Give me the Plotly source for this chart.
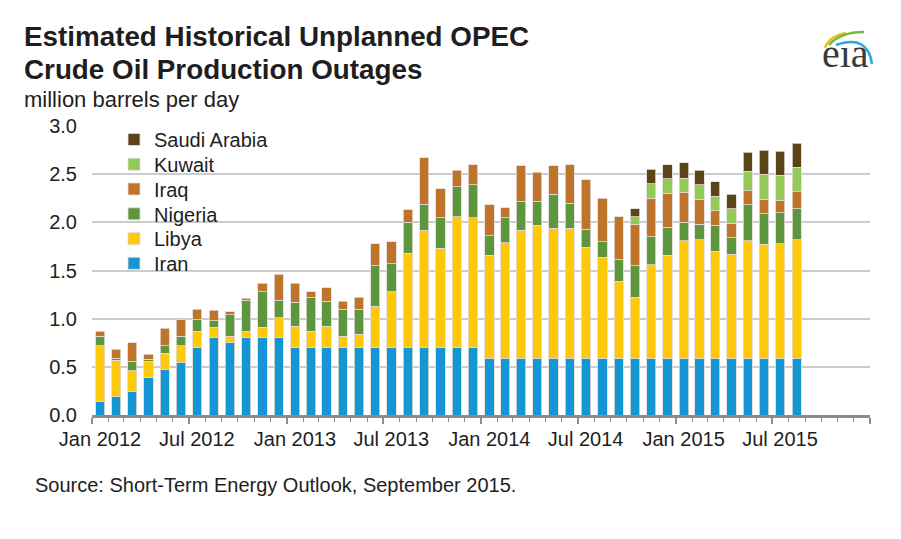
import plotly.graph_objects as go

# ---------------- data ----------------
months = [f"{y}-{m:02d}-01" for y in (2012, 2013, 2014, 2015) for m in range(1, 13)][:44]

iran = [0.14, 0.19, 0.24, 0.39, 0.47, 0.54, 0.70, 0.80, 0.75, 0.80, 0.80, 0.80,
        0.70, 0.70, 0.70, 0.70, 0.70, 0.70, 0.70, 0.70, 0.70, 0.70, 0.70, 0.70,
        0.59, 0.59, 0.59, 0.59, 0.59, 0.59, 0.59, 0.59, 0.59, 0.59, 0.59, 0.59,
        0.59, 0.59, 0.59, 0.59, 0.59, 0.59, 0.59, 0.59]
libya = [0.58, 0.38, 0.22, 0.17, 0.17, 0.18, 0.17, 0.11, 0.07, 0.07, 0.11, 0.21,
         0.22, 0.17, 0.22, 0.12, 0.14, 0.43, 0.58, 0.98, 1.22, 1.03, 1.36, 1.35,
         1.07, 1.20, 1.33, 1.38, 1.35, 1.35, 1.15, 1.05, 0.80, 0.63, 0.97, 1.07,
         1.22, 1.23, 1.11, 1.08, 1.22, 1.18, 1.19, 1.23]
nigeria = [0.10, 0.02, 0.10, 0.02, 0.08, 0.10, 0.12, 0.07, 0.22, 0.32, 0.37, 0.18,
           0.25, 0.35, 0.26, 0.28, 0.26, 0.42, 0.29, 0.32, 0.27, 0.32, 0.31, 0.34,
           0.20, 0.26, 0.30, 0.25, 0.35, 0.26, 0.19, 0.16, 0.22, 0.33, 0.29, 0.29,
           0.19, 0.16, 0.27, 0.17, 0.37, 0.32, 0.32, 0.32]
iraq = [0.05, 0.09, 0.19, 0.05, 0.18, 0.17, 0.11, 0.11, 0.03, 0.02, 0.09, 0.27,
        0.20, 0.06, 0.14, 0.08, 0.12, 0.23, 0.23, 0.13, 0.48, 0.30, 0.17, 0.21,
        0.32, 0.10, 0.37, 0.30, 0.30, 0.40, 0.51, 0.45, 0.45, 0.43, 0.40, 0.35,
        0.31, 0.26, 0.15, 0.15, 0.15, 0.15, 0.13, 0.18]
kuwait = [None] * 33 + [0.08, 0.15, 0.15, 0.15, 0.15, 0.15, 0.15, 0.20, 0.26, 0.26, 0.25]
saudi = [None] * 33 + [0.08, 0.15, 0.15, 0.16, 0.15, 0.15, 0.15, 0.20, 0.25, 0.25, 0.25]

series_names = ["Iran", "Libya", "Nigeria", "Iraq", "Kuwait", "Saudi Arabia"]
series_values = [iran, libya, nigeria, iraq, kuwait, saudi]
series_colors = ["#1595D3", "#FFC90B", "#5E9640", "#BE742A", "#93C956", "#5C4419"]

tick_dates = ["2012-01-01", "2012-07-01", "2013-01-01", "2013-07-01", "2014-01-01",
              "2014-07-01", "2015-01-01", "2015-07-01", "2016-01-01"]
tick_labels = ["Jan 2012", "Jul 2012", "Jan 2013", "Jul 2013", "Jan 2014",
               "Jul 2014", "Jan 2015", "Jul 2015", ""]

# ---------------- layout helpers (pixel -> paper) ----------------
W, H = 901, 539
L, R, T, B = 92, 31, 126, 124
PW, PH = W - L - R, H - T - B


def px(x):
    return (x - L) / PW


def py(y):
    return (H - B - y) / PH


FONT = "Liberation Sans, Arial, sans-serif"
TXT = "#1e1e1e"
AXC = "#8c8c8c"

fig = go.Figure()
legend_rows = {"Saudi Arabia": 139.5, "Kuwait": 164.3, "Iraq": 189.0,
               "Nigeria": 213.8, "Libya": 238.6, "Iran": 263.3}
legend_keys = ["legend", "legend2", "legend3", "legend4", "legend5", "legend6"]

for name, vals, col, lk in zip(series_names, series_values, series_colors, legend_keys):
    fig.add_trace(go.Bar(
        x=months, y=vals, name=name,
        xperiod="M1", xperiodalignment="middle",
        marker=dict(color=col, line=dict(color="#e4dad4", width=0.8)),
        legend=lk, showlegend=True,
        hovertemplate="%{x|%b %Y}: %{y:.2f}<extra>" + name + "</extra>",
    ))

layout_legends = {}
for name, lk in zip(series_names, legend_keys):
    layout_legends[lk] = dict(
        x=px(114), y=py(legend_rows[name]), xanchor="left", yanchor="middle",
        bgcolor="rgba(0,0,0,0)", borderwidth=0, visible=True,
        font=dict(family=FONT, size=20, color=TXT),
    )

fig.update_layout(
    width=W, height=H,
    margin=dict(l=L, r=R, t=T, b=B),
    paper_bgcolor="white", plot_bgcolor="white",
    showlegend=True,
    barmode="stack", bargap=0.41,
    font=dict(family=FONT, size=20, color=TXT),
    **layout_legends,
    xaxis=dict(
        type="date", range=["2012-01-01", "2016-01-01"],
        tickmode="array", tickvals=tick_dates, ticktext=tick_labels,
        ticks="outside", ticklen=6, tickwidth=1.5, tickcolor=AXC,
        ticklabelshift=8, ticklabelstandoff=-2,
        showline=True, linecolor=AXC, linewidth=3,
        showgrid=False, zeroline=False,
        tickfont=dict(family=FONT, size=20, color=TXT),
        minor=dict(tickmode="linear", tick0="2012-01-01", dtick="M1",
                   ticks="outside", ticklen=4, tickwidth=1, tickcolor=AXC, showgrid=False),
    ),
    xaxis2=dict(
        type="date", range=["2012-01-01", "2016-01-01"], overlaying="x", anchor="y",
        side="bottom", tickmode="array", tickvals=tick_dates, ticks="inside",
        ticklen=5, tickwidth=1.5, tickcolor=AXC, showticklabels=False,
        showline=False, showgrid=False, zeroline=False,
    ),
    yaxis=dict(
        range=[0, 3], tickmode="linear", tick0=0, dtick=0.5, tickformat=".1f",
        showgrid=True, gridcolor="#cccccc", gridwidth=1.5,
        zeroline=False, showline=False, ticks="", ticklabelstandoff=14,
        tickfont=dict(family=FONT, size=20, color=TXT),
    ),
)

annotations = [
    dict(text="<b>Estimated Historical Unplanned OPEC</b>", x=px(22), y=py(37),
         font=dict(family=FONT, size=27.8, color=TXT)),
    dict(text="<b>Crude Oil Production Outages</b>", x=px(22), y=py(69.5),
         font=dict(family=FONT, size=27.8, color=TXT)),
    dict(text="million barrels per day", x=px(22), y=py(100),
         font=dict(family=FONT, size=22, color=TXT)),
    dict(text="Source: Short-Term Energy Outlook, September 2015.", x=px(33), y=py(485),
         font=dict(family=FONT, size=20, color=TXT)),
]
for a in annotations:
    a.update(xref="paper", yref="paper", xanchor="left", yanchor="middle",
             showarrow=False)
fig.update_layout(annotations=annotations)

# eia logo
fig.add_annotation(text="e\u0131a", x=px(845), y=py(54), xref="paper", yref="paper",
                   xanchor="center", yanchor="middle", showarrow=False,
                   font=dict(family="Liberation Serif, DejaVu Serif, serif", size=40, color="#3a3a3a"))
swooshes = [
    ((825, 48), (829, 36), (846, 33), "#F0C020"),
    ((829, 45), (840, 32), (864, 32), "#79B943"),
    ((836, 45), (868, 34), (872, 64), "#2AA6DE"),
]
for (x0, y0), (xc, yc), (x1, y1), col in swooshes:
    fig.add_shape(type="path", xref="paper", yref="paper",
                  path=f"M {px(x0)},{py(y0)} Q {px(xc)},{py(yc)} {px(x1)},{py(y1)}",
                  line=dict(color=col, width=2.5))

fig.write_html("out.html", config={"displayModeBar": False},
               post_script="document.body.style.margin='0';")
